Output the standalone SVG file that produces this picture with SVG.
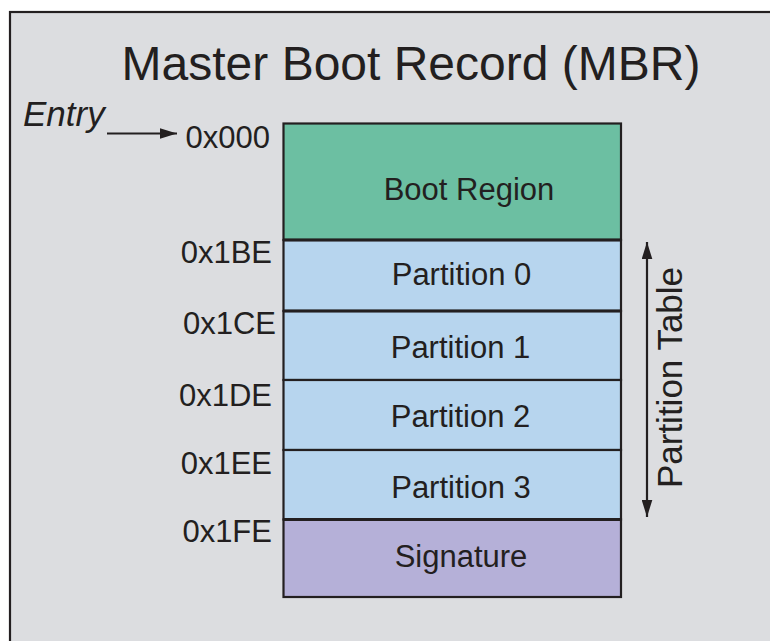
<svg xmlns="http://www.w3.org/2000/svg" width="770" height="641" viewBox="0 0 770 641">
  <style>
    text { font-family: "Liberation Sans", Arial, sans-serif; fill: #231f20; }
    .lbl { font-size: 31px; text-anchor: middle; }
    .addr { font-size: 31px; text-anchor: end; }
    .cell { stroke: #231f20; stroke-width: 2.2; }
    .boot { fill: #6cbfa2; }
    .part { fill: #b7d5ee; }
    .sig { fill: #b5b0d8; }
    .conn { stroke: #231f20; stroke-width: 2.2; fill: none; }
  </style>
  <defs>
    <marker id="ah" viewBox="0 0 10 10" refX="10" refY="5" markerWidth="7" markerHeight="7" markerUnits="userSpaceOnUse" orient="auto-start-reverse">
      <path d="M0,0 L10,5 L0,10 L2.5,5 Z" fill="#231f20"/>
    </marker>
    <marker id="ah2" viewBox="0 0 16 10" refX="16" refY="5" markerWidth="17" markerHeight="11" markerUnits="userSpaceOnUse" orient="auto-start-reverse">
      <path d="M0,0 L16,5 L0,10 Z" fill="#231f20"/>
    </marker>
  </defs>

  <rect id="frame" x="10" y="12" width="800" height="700" fill="#dcdde0" stroke="#231f20" stroke-width="2.2"/>

  <g id="title">
    <text x="411" y="80" style="font-size:48px;text-anchor:middle">Master Boot Record (MBR)</text>
  </g>

  <g id="entry">
    <text x="23" y="126" style="font-size:35px;font-style:italic">Entry</text>
  </g>

  <g id="boot-region">
    <rect class="cell boot" x="283.5" y="123.5" width="337.5" height="116.5"/>
    <text class="lbl" x="469" y="200">Boot Region</text>
  </g>
  <g id="partition-0">
    <rect class="cell part" x="283.5" y="240" width="337.5" height="71"/>
    <text class="lbl" x="461.5" y="285">Partition 0</text>
  </g>
  <g id="partition-1">
    <rect class="cell part" x="283.5" y="311" width="337.5" height="69"/>
    <text class="lbl" x="460.5" y="357.5">Partition 1</text>
  </g>
  <g id="partition-2">
    <rect class="cell part" x="283.5" y="380" width="337.5" height="70"/>
    <text class="lbl" x="460.5" y="426.5">Partition 2</text>
  </g>
  <g id="partition-3">
    <rect class="cell part" x="283.5" y="450" width="337.5" height="69.5"/>
    <text class="lbl" x="461" y="497.5">Partition 3</text>
  </g>
  <g id="signature">
    <rect class="cell sig" x="283.5" y="519.5" width="337.5" height="77.5"/>
    <text class="lbl" x="461" y="566.5">Signature</text>
  </g>
  <g id="separators" stroke="#231f20" stroke-width="3.2">
    <line x1="283.5" y1="240" x2="621" y2="240"/>
    <line x1="283.5" y1="311" x2="621" y2="311"/>
    <line x1="283.5" y1="519.5" x2="621" y2="519.5"/>
  </g>

  <g id="addresses">
    <text class="addr" x="270" y="148">0x000</text>
    <text class="addr" x="272" y="263">0x1BE</text>
    <text class="addr" x="276" y="334">0x1CE</text>
    <text class="addr" x="272" y="406">0x1DE</text>
    <text class="addr" x="272" y="474">0x1EE</text>
    <text class="addr" x="272" y="542">0x1FE</text>
  </g>

  <g id="partition-table-label">
    <text transform="translate(682,377.5) rotate(-90)" style="font-size:35px;text-anchor:middle">Partition Table</text>
  </g>

  <g id="connectors">
    <line class="conn" x1="107" y1="133.5" x2="177" y2="133.5" marker-end="url(#ah2)"/>
    <line class="conn" x1="647" y1="242" x2="647" y2="517" marker-start="url(#ah2)" marker-end="url(#ah2)"/>
  </g>
</svg>
